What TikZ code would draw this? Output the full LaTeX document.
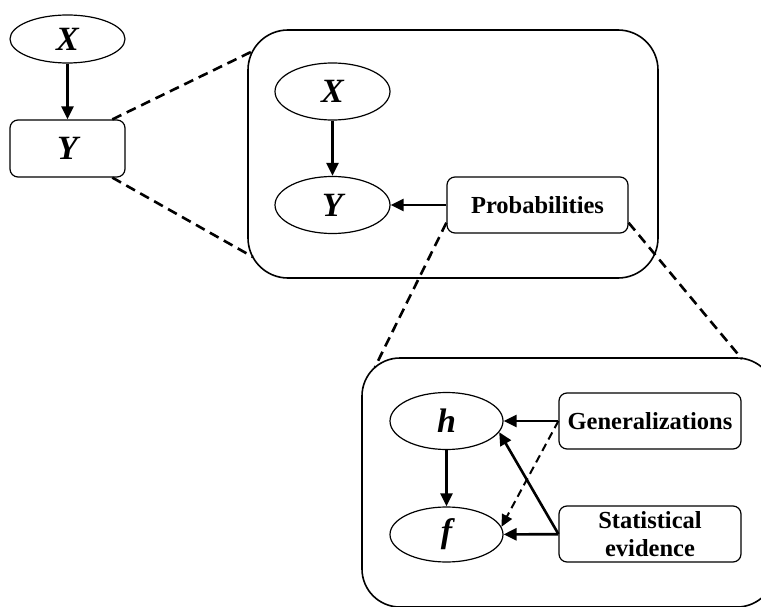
\documentclass[tikz,border=0pt]{standalone}
\usepackage{fontspec}
\setmainfont{Liberation Serif}
\usetikzlibrary{shapes.geometric,arrows.meta}
\begin{document}
\begin{tikzpicture}[x=1pt,y=-1pt,
  varfont/.style={font=\fontsize{34}{34}\selectfont\bfseries\itshape},
  var/.style={ellipse,draw,line width=1.2pt,inner sep=0pt,minimum width=115pt,minimum height=57pt,varfont},
  rbox/.style={rectangle,rounded corners=8pt,draw,line width=1.2pt,inner sep=0pt,minimum height=56pt,align=center,font=\fontsize{24.5}{28}\selectfont\bfseries},
  bigbox/.style={rectangle,rounded corners=40pt,draw,line width=1.6pt,inner sep=0pt},
  arr/.style={line width=2.6pt,-{Triangle[length=13pt,width=12pt]}},
  zoomline/.style={line width=2.6pt,dash pattern=on 10pt off 6pt},
  darr/.style={line width=2pt,dash pattern=on 8pt off 5pt,-{Triangle[length=12pt,width=11pt]}}
]
\useasboundingbox (0,0) rectangle (761,607);
\clip (0,0) rectangle (761,607);

% left summary
\node[var, minimum height=48pt] (X0) at (67.5,39) {X};
\node[rbox, varfont, minimum width=115pt, minimum height=57pt] (Y0) at (67.5,148.5) {Y};

% first zoom box
\node[bigbox, minimum width=410pt, minimum height=248pt] (B1) at (453,154) {};
\node[var] (X1) at (332.5,91.5) {X};
\node[var] (Y1) at (332.5,205) {Y};
\node[rbox, minimum width=181pt] (P) at (537.5,205) {Probabilities};

% second zoom box
\node[bigbox, rounded corners=38pt, minimum width=413pt, minimum height=249pt] (B2) at (568.5,482.5) {};
\node[var, minimum width=113pt] (h) at (446.5,421) {h};
\node[var, minimum width=113pt, minimum height=55pt] (f) at (446.5,534.5) {f};
\node[rbox, minimum width=182pt] (G) at (650,421) {Generalizations};
\node[rbox, minimum width=182pt] (S) at (650,534) {Statistical\\evidence};

\coordinate (b1a) at (253,51);
\coordinate (b1b) at (253,257);
\coordinate (b2a) at (375,367);
\coordinate (b2b) at (742,359);

\draw[arr] (X0) -- (Y0);
\draw[zoomline] (Y0.33) -- (b1a);
\draw[zoomline] (Y0.-33) -- (b1b);
\draw[arr] (X1) -- (Y1);
\draw[arr] (P) -- (Y1);
\draw[zoomline] (P.191) -- (b2a);
\draw[zoomline] (P.-11) -- (b2b);
\draw[arr] (h) -- (f);
\draw[arr] (G) -- (h);
\draw[arr] (S) -- (f);
\draw[arr] (S.west) -- (h.-12);
\draw[darr] (G.west) -- (f.8);
\end{tikzpicture}
\end{document}
